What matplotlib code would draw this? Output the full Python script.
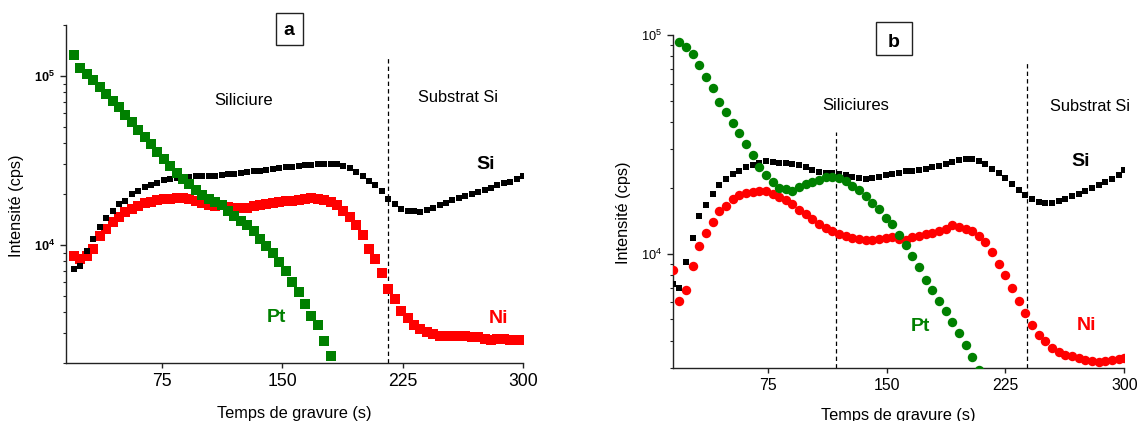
import numpy as np
import matplotlib
matplotlib.use("Agg")
import matplotlib.pyplot as plt
from matplotlib.patches import Rectangle
from matplotlib.ticker import FixedLocator, LogLocator, FuncFormatter, NullFormatter

plt.rcParams['font.family'] = ['Liberation Sans', 'DejaVu Sans']
plt.rcParams['mathtext.fontset'] = 'custom'
plt.rcParams['mathtext.rm'] = 'Liberation Sans'
plt.rcParams['mathtext.it'] = 'Liberation Sans:italic'
plt.rcParams['mathtext.bf'] = 'Liberation Sans:bold'

# ---------------- data : panel a ----------------
t_a = [20, 24, 28, 32, 36, 40, 44, 48, 52, 56, 60, 64, 68, 72, 76, 80, 84, 88, 92, 96,
       100, 104, 108, 112, 116, 120, 124, 128, 132, 136, 140, 144, 148, 152, 156, 160,
       164, 168, 172, 176, 180, 184, 188, 192, 196, 200, 204, 208, 212, 216, 220, 224,
       228, 232, 236, 240, 244, 248, 252, 256, 260, 264, 268, 272, 276, 280, 284, 288,
       292, 296, 300]

si_a = [7.2e3, 7.5e3, 9.2e3, 1.09e4, 1.28e4, 1.45e4, 1.59e4, 1.75e4, 1.82e4, 1.99e4,
        2.08e4, 2.20e4, 2.27e4, 2.33e4, 2.42e4, 2.46e4, 2.50e4, 2.51e4, 2.52e4, 2.54e4,
        2.55e4, 2.55e4, 2.55e4, 2.58e4, 2.61e4, 2.64e4, 2.67e4, 2.70e4, 2.73e4, 2.75e4,
        2.77e4, 2.82e4, 2.86e4, 2.88e4, 2.90e4, 2.92e4, 2.95e4, 2.98e4, 3.01e4, 3.02e4,
        3.02e4, 2.99e4, 2.94e4, 2.84e4, 2.71e4, 2.57e4, 2.40e4, 2.25e4, 2.07e4, 1.88e4,
        1.75e4, 1.62e4, 1.59e4, 1.58e4, 1.56e4, 1.60e4, 1.66e4, 1.73e4, 1.78e4, 1.84e4,
        1.90e4, 1.95e4, 2.00e4, 2.06e4, 2.12e4, 2.18e4, 2.25e4, 2.31e4, 2.37e4, 2.44e4,
        2.55e4]

ni_a = [8.6e3, 8.3e3, 8.6e3, 9.5e3, 1.13e4, 1.24e4, 1.36e4, 1.46e4, 1.57e4, 1.64e4,
        1.70e4, 1.76e4, 1.80e4, 1.84e4, 1.87e4, 1.88e4, 1.89e4, 1.89e4, 1.86e4, 1.81e4,
        1.77e4, 1.73e4, 1.70e4, 1.72e4, 1.68e4, 1.66e4, 1.66e4, 1.66e4, 1.69e4, 1.73e4,
        1.75e4, 1.77e4, 1.79e4, 1.81e4, 1.82e4, 1.84e4, 1.86e4, 1.89e4, 1.88e4, 1.84e4,
        1.79e4, 1.72e4, 1.59e4, 1.46e4, 1.31e4, 1.14e4, 9.5e3, 8.2e3, 6.8e3, 5.5e3,
        4.8e3, 4.05e3, 3.68e3, 3.36e3, 3.16e3, 3.07e3, 2.95e3, 2.90e3, 2.88e3, 2.87e3,
        2.87e3, 2.87e3, 2.86e3, 2.85e3, 2.78e3, 2.74e3, 2.76e3, 2.78e3, 2.75e3, 2.72e3,
        2.72e3]

pt_a = [1.32e5, 1.11e5, 1.03e5, 9.5e4, 8.6e4, 7.8e4, 7.1e4, 6.5e4, 5.9e4, 5.3e4,
        4.8e4, 4.35e4, 3.96e4, 3.56e4, 3.24e4, 2.93e4, 2.68e4, 2.47e4, 2.28e4, 2.12e4,
        1.97e4, 1.86e4, 1.79e4, 1.72e4, 1.59e4, 1.48e4, 1.39e4, 1.31e4, 1.21e4, 1.08e4,
        9.9e3, 8.9e3, 7.9e3, 7.0e3, 6.05e3, 5.25e3, 4.47e3, 3.82e3, 3.36e3, 2.7e3,
        2.2e3]

# ---------------- data : panel b ----------------
t_b = [15.0, 19.2, 23.4, 27.6, 31.8, 36.0, 40.2, 44.4, 48.6, 52.8, 57.0, 61.2, 65.4,
       69.6, 73.8, 78.0, 82.2, 86.4, 90.6, 94.8, 99.0, 103.2, 107.4, 111.6, 115.8,
       120.0, 124.2, 128.4, 132.6, 136.8, 141.0, 145.2, 149.4, 153.6, 157.8, 162.0,
       166.2, 170.4, 174.6, 178.8, 183.0, 187.2, 191.4, 195.6, 199.8, 204.0, 208.2,
       212.4, 216.6, 220.8, 225.0, 229.2, 233.4, 237.6, 241.8, 246.0, 250.2, 254.4,
       258.6, 262.8, 267.0, 271.2, 275.4, 279.6, 283.8, 288.0, 292.2, 296.4, 300.0]

si_b = [7.3e3, 6.97e3, 9.2e3, 1.18e4, 1.48e4, 1.67e4, 1.88e4, 2.06e4, 2.19e4, 2.31e4,
        2.38e4, 2.48e4, 2.54e4, 2.61e4, 2.64e4, 2.63e4, 2.60e4, 2.59e4, 2.57e4, 2.54e4,
        2.48e4, 2.41e4, 2.37e4, 2.35e4, 2.33e4, 2.32e4, 2.29e4, 2.25e4, 2.22e4, 2.20e4,
        2.22e4, 2.25e4, 2.28e4, 2.32e4, 2.35e4, 2.38e4, 2.40e4, 2.42e4, 2.45e4, 2.49e4,
        2.53e4, 2.58e4, 2.63e4, 2.69e4, 2.70e4, 2.70e4, 2.64e4, 2.56e4, 2.45e4, 2.34e4,
        2.21e4, 2.08e4, 1.95e4, 1.86e4, 1.78e4, 1.73e4, 1.70e4, 1.70e4, 1.74e4, 1.78e4,
        1.83e4, 1.87e4, 1.93e4, 1.99e4, 2.06e4, 2.12e4, 2.20e4, 2.30e4, 2.42e4]

ni_b = [8.45e3, 6.05e3, 6.85e3, 8.75e3, 1.08e4, 1.24e4, 1.40e4, 1.57e4, 1.66e4, 1.77e4,
        1.85e4, 1.89e4, 1.91e4, 1.94e4, 1.94e4, 1.88e4, 1.82e4, 1.76e4, 1.68e4, 1.59e4,
        1.52e4, 1.44e4, 1.36e4, 1.31e4, 1.27e4, 1.23e4, 1.20e4, 1.18e4, 1.17e4, 1.16e4,
        1.16e4, 1.17e4, 1.18e4, 1.19e4, 1.17e4, 1.16e4, 1.19e4, 1.21e4, 1.23e4, 1.24e4,
        1.27e4, 1.30e4, 1.35e4, 1.33e4, 1.29e4, 1.27e4, 1.21e4, 1.13e4, 1.02e4, 9.0e3,
        8.0e3, 6.95e3, 6.1e3, 5.35e3, 4.7e3, 4.25e3, 3.98e3, 3.72e3, 3.55e3, 3.45e3,
        3.39e3, 3.33e3, 3.28e3, 3.24e3, 3.21e3, 3.24e3, 3.27e3, 3.31e3, 3.34e3]

pt_b = [9.3e4, 8.85e4, 8.2e4, 7.3e4, 6.45e4, 5.75e4, 4.95e4, 4.45e4, 3.95e4, 3.55e4,
        3.17e4, 2.83e4, 2.50e4, 2.28e4, 2.12e4, 2.00e4, 1.97e4, 1.94e4, 2.01e4, 2.08e4,
        2.13e4, 2.18e4, 2.24e4, 2.25e4, 2.22e4, 2.14e4, 2.04e4, 1.96e4, 1.83e4, 1.71e4,
        1.60e4, 1.45e4, 1.36e4, 1.22e4, 1.10e4, 9.8e3, 8.7e3, 7.6e3, 6.8e3, 6.05e3,
        5.45e3, 4.85e3, 4.33e3, 3.84e3, 3.37e3, 2.95e3]

x_ticks = [75, 150, 225, 300]
boundary_a = [216]
boundary_b = [118, 238.5]

GREEN = '#008000'
RED = '#ff0000'
BLACK = '#000000'

# ---------------- figure ----------------
W, H = 1142, 421
fig = plt.figure(figsize=(W / 100, H / 100), dpi=100)


def fx(px):
    return px / W


def fy(py):
    return 1 - py / H


axA = fig.add_axes([fx(66), fy(363), (523 - 66) / W, (363 - 25) / H])
axB = fig.add_axes([fx(672.7), fy(368), (1124.3 - 672.7) / W, (368 - 35) / H])


def style(ax, bold, xlabsize, ylim):
    ax.set_yscale('log')
    ax.set_xlim(15, 300)
    ax.set_ylim(*ylim)
    for s in ['top', 'right']:
        ax.spines[s].set_visible(False)
    for s in ['left', 'bottom']:
        ax.spines[s].set_linewidth(1.0)
        ax.spines[s].set_color('#222222')
    ax.set_xticks(x_ticks)
    ax.set_xticklabels([str(v) for v in x_ticks])
    ax.yaxis.set_major_locator(FixedLocator([1e4, 1e5]))
    ax.yaxis.set_minor_locator(LogLocator(base=10, subs=range(2, 10), numticks=20))
    ax.yaxis.set_minor_formatter(NullFormatter())
    fmt = r'$\mathbf{10^{%d}}$' if bold else r'$10^{%d}$'
    ax.yaxis.set_major_formatter(FuncFormatter(lambda v, p: fmt % int(round(np.log10(v)))))
    ax.tick_params(axis='x', which='major', direction='out', length=3.6, width=1.0,
                   labelsize=xlabsize, pad=3.8, color='#222222')
    ax.tick_params(axis='x', which='minor', bottom=False)
    ax.tick_params(axis='y', which='major', direction='out', length=4.3, width=1.0,
                   labelsize=9.2, pad=3.4, color='#222222')
    ax.tick_params(axis='y', which='minor', direction='out', length=2.4, width=0.8,
                   color='#222222')


style(axA, True, 12.7, (2000, 2.0e5))
style(axB, False, 11.4, (3000, 1.0e5))

# panel a markers
axA.plot(t_a[:len(ni_a)], ni_a, ls='none', marker='s', ms=7.2, mew=0, color=RED, zorder=3)
axA.plot(t_a[:len(si_a)], si_a, ls='none', marker='s', ms=4.7, mew=0, color=BLACK, zorder=4)
axA.plot(t_a[:len(pt_a)], pt_a, ls='none', marker='s', ms=6.9, mew=0, color=GREEN, zorder=5)

# panel b markers
axB.plot(t_b[:len(ni_b)], ni_b, ls='none', marker='o', ms=6.8, mew=0, color=RED, zorder=3)
axB.plot(t_b[:len(si_b)], si_b, ls='none', marker='s', ms=4.5, mew=0, color=BLACK, zorder=4)
axB.plot(t_b[1:1 + len(pt_b)], pt_b, ls='none', marker='o', ms=6.8, mew=0, color=GREEN, zorder=5)

# boundaries
axA.vlines(boundary_a[0], 2000, 1.28e5, colors='black', linestyles=(0, (3.5, 2.5)), lw=0.9)
axB.vlines(boundary_b[0], 3000, 3.6e4, colors='black', linestyles=(0, (3.5, 2.5)), lw=0.9)
axB.vlines(boundary_b[1], 3000, 7.6e4, colors='black', linestyles=(0, (3.5, 2.5)), lw=0.9)


def ftxt(px, py, s, **kw):
    fig.text(fx(px), fy(py), s, ha='center', va='baseline', **kw)


# region labels
ftxt(243.5, 105, 'Siliciure', fontsize=12)
ftxt(458.3, 101.7, 'Substrat Si', fontsize=11.8)
ftxt(855.5, 110, 'Siliciures', fontsize=12)
ftxt(1090.3, 110.7, 'Substrat Si', fontsize=11.8)

# element labels
ftxt(485.7, 169.3, 'Si', fontsize=14, fontweight='bold', color=BLACK)
ftxt(498.7, 323.3, 'Ni', fontsize=14, fontweight='bold', color=RED)
ftxt(276.3, 321.7, 'Pt', fontsize=14, fontweight='bold', color=GREEN)
ftxt(1081, 166, 'Si', fontsize=14, fontweight='bold', color=BLACK)
ftxt(1086, 330, 'Ni', fontsize=14, fontweight='bold', color=RED)
ftxt(920.7, 330.7, 'Pt', fontsize=14, fontweight='bold', color=GREEN)

# panel boxes
for (x0, y0, x1, y1, lab, cx, by) in [(276, 12.7, 302.7, 45, 'a', 289, 35),
                                      (875.7, 22.3, 911.7, 55, 'b', 894, 46.7)]:
    fig.patches.append(Rectangle((fx(x0), fy(y1)), (x1 - x0) / W, (y1 - y0) / H,
                                 transform=fig.transFigure, fill=True, facecolor='white',
                                 edgecolor='#222222', lw=1.0))
    ftxt(cx, by, lab, fontsize=14, fontweight='bold')

# axis labels
ftxt(294.5, 418.4, 'Temps de gravure (s)', fontsize=11.8)
ftxt(898.5, 420, 'Temps de gravure (s)', fontsize=11.8)
fig.text(fx(17), fy(206), 'Intensité (cps)', rotation=90, ha='center', va='center', fontsize=11.7)
fig.text(fx(623.3), fy(213), 'Intensité (cps)', rotation=90, ha='center', va='center', fontsize=11.7)

fig.savefig('out.png', dpi=100)
